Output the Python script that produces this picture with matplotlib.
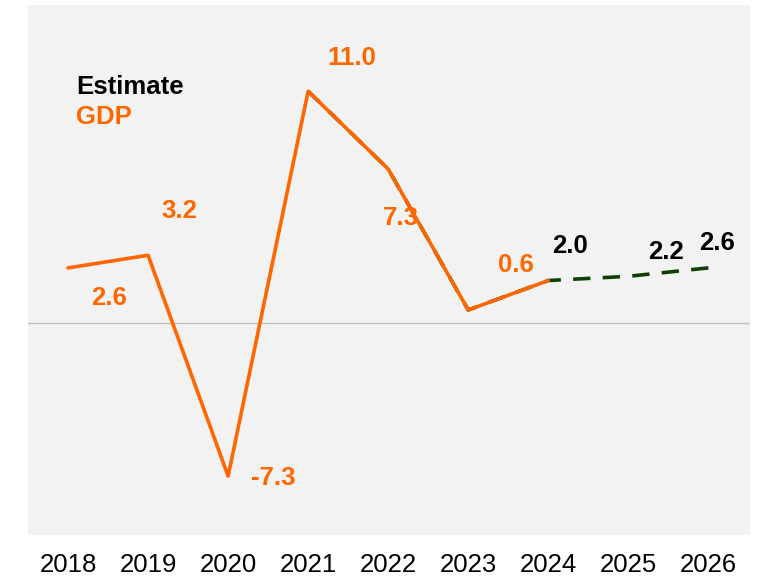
import matplotlib
matplotlib.use("Agg")
import matplotlib.pyplot as plt

years = [2018, 2019, 2020, 2021, 2022, 2023, 2024, 2025, 2026]
gdp_years = [2018, 2019, 2020, 2021, 2022, 2023, 2024]
gdp = [2.6, 3.2, -7.3, 11.0, 7.3, 0.6, 2.0]
est_years = [2021, 2022, 2023, 2024, 2025, 2026]
estimate = [11.0, 7.3, 0.6, 2.0, 2.2, 2.6]

# label offsets in pixels (dx, dy)
gdp_offsets = [(41, -30), (31, 44), (45, -2), (44, 33), (13, -49), (48, 45)]
est_label_years = [2024, 2025, 2026]
est_labels = [2.0, 2.2, 2.6]
est_offsets = [(22, 35), (38, 24), (9, 25)]

ORANGE = "#ff6600"
GREEN = "#0f3f00"

fig = plt.figure(figsize=(7.64, 5.78), dpi=100)
ax = fig.add_axes([28 / 764, 43 / 578, 722 / 764, 530 / 578])
ax.set_facecolor("#f2f2f2")

ax.axhline(0, color="#bfbfbf", lw=1)
# drawn from the last point back so the dash pattern starts at 2026
ax.plot(est_years[::-1], estimate[::-1], color=GREEN, lw=2.6,
        dashes=(4.8, 3.4))
ax.plot(gdp_years, gdp, color=ORANGE, lw=2.6, solid_capstyle="round")

lab = dict(fontsize=18.5, fontweight="bold", family="Liberation Sans",
           ha="center", va="center", textcoords="offset pixels")
for x, v, off in zip(gdp_years[:6], gdp[:6], gdp_offsets):
    ax.annotate("%.1f" % v, (x, v), xytext=off, color=ORANGE, **lab)
for x, v, off in zip(est_label_years, est_labels, est_offsets):
    ax.annotate("%.1f" % v, (x, v), xytext=off, color="black", **lab)

ax.text(76, 491, "Estimate", transform=None, fontsize=18.5, fontweight="bold",
        family="Liberation Sans", color="black", va="center")
ax.text(76, 461, "GDP", transform=None, fontsize=18.5, fontweight="bold",
        family="Liberation Sans", color=ORANGE, va="center")

ax.set_xlim(2017.5, 2026.52)
ax.set_ylim(-10.1, 15.1)
ax.set_xticks(years)
ax.set_xticklabels([str(y) for y in years], family="Liberation Sans",
                   fontsize=18.5)
ax.tick_params(axis="x", length=0, pad=13)
ax.set_yticks([])
for s in ax.spines.values():
    s.set_visible(False)

fig.savefig("out.png", dpi=100)
